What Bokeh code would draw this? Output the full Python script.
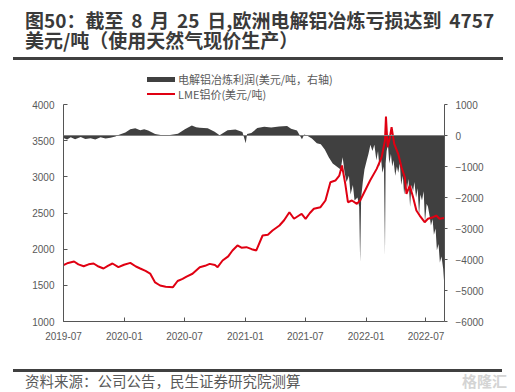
import pandas as pd
from bokeh.plotting import figure
from bokeh.layouts import column
from bokeh.models import (Range1d, LinearAxis, FixedTicker, DatetimeTickFormatter,
                          Span, Div)
from bokeh.embed import file_html
from bokeh.resources import INLINE

# ---------------- data ----------------
title_line1 = "图50：截至 8 月 25 日,欧洲电解铝冶炼亏损达到 4757"
title_line2 = "美元/吨（使用天然气现价生产）"
source_text = "资料来源：公司公告，民生证券研究院测算"
watermark = "格隆汇"
legend_profit = "电解铝冶炼利润(美元/吨，右轴)"
legend_lme = "LME铝价(美元/吨)"

x_tick_dates = ["2019-07-01", "2020-01-01", "2020-07-01", "2021-01-01",
                "2021-07-01", "2022-01-01", "2022-07-01"]
left_ticks = [1000, 1500, 2000, 2500, 3000, 3500, 4000]
right_ticks = [-6000, -5000, -4000, -3000, -2000, -1000, 0, 1000]

lme_dates = [
    "2019-07-01", "2019-07-15", "2019-08-02", "2019-08-15", "2019-08-31", "2019-09-15",
    "2019-09-30", "2019-10-15", "2019-10-30", "2019-11-12", "2019-11-26", "2019-12-14",
    "2019-12-31", "2020-01-19", "2020-02-05", "2020-02-18", "2020-03-05", "2020-03-19",
    "2020-04-03", "2020-04-18", "2020-05-05", "2020-05-27", "2020-06-10", "2020-06-25",
    "2020-07-07", "2020-07-25", "2020-08-16", "2020-09-01", "2020-09-15", "2020-10-01",
    "2020-10-09", "2020-10-24", "2020-11-10", "2020-11-23", "2020-12-08", "2020-12-20",
    "2021-01-04", "2021-01-20", "2021-02-03", "2021-02-22", "2021-03-10", "2021-03-24",
    "2021-04-14", "2021-04-28", "2021-05-14", "2021-05-28", "2021-06-12", "2021-06-20",
    "2021-07-02", "2021-07-15", "2021-07-27", "2021-08-16", "2021-08-31", "2021-09-15",
    "2021-09-30", "2021-10-12", "2021-10-20", "2021-10-30", "2021-11-07", "2021-11-19",
    "2021-12-04", "2021-12-14", "2021-12-29", "2022-01-13", "2022-02-02", "2022-02-17",
    "2022-02-27", "2022-03-02", "2022-03-07", "2022-03-14", "2022-03-19", "2022-03-27",
    "2022-04-08", "2022-04-18", "2022-04-28", "2022-05-03", "2022-05-13", "2022-05-23",
    "2022-06-02", "2022-06-12", "2022-06-27", "2022-07-07", "2022-07-22", "2022-08-01",
    "2022-08-11", "2022-08-25"]
lme_price = [
    1780, 1810, 1829, 1790, 1764, 1790,
    1802, 1760, 1733, 1770, 1802, 1751,
    1785, 1811, 1760, 1733, 1700, 1663,
    1540, 1498, 1480, 1474, 1560, 1590,
    1620, 1660, 1751, 1770, 1797, 1780,
    1751, 1843, 1900, 1982, 2051, 2020,
    2028, 2000, 1982, 2189, 2200, 2258,
    2327, 2400, 2511, 2420, 2465, 2489,
    2420, 2500, 2558, 2580, 2673, 2926,
    2949, 3018, 3157, 2903, 2649, 2673,
    2627, 2673, 2811, 2949, 3110, 3272,
    3502, 3834, 3410, 3548, 3686, 3456,
    3318, 3133, 2995, 2765, 2880, 2718,
    2535, 2465, 2373, 2420, 2442, 2465,
    2420, 2430]

profit_dates = [
    "2019-07-01", "2019-07-12", "2019-07-23", "2019-08-05", "2019-08-22", "2019-09-05",
    "2019-09-21", "2019-10-05", "2019-10-21", "2019-11-05", "2019-11-20", "2019-12-05",
    "2019-12-14", "2020-01-04", "2020-01-19", "2020-02-03", "2020-02-18", "2020-03-01",
    "2020-03-13", "2020-04-03", "2020-04-24", "2020-05-18", "2020-06-11", "2020-07-02",
    "2020-07-23", "2020-08-05", "2020-08-16", "2020-09-09", "2020-09-30", "2020-10-15",
    "2020-11-08", "2020-12-02", "2020-12-23", "2021-01-02", "2021-01-06", "2021-01-19",
    "2021-02-06", "2021-02-27", "2021-03-20", "2021-04-13", "2021-05-07", "2021-05-19",
    "2021-06-06", "2021-06-21", "2021-06-28", "2021-07-06", "2021-07-21", "2021-08-05",
    "2021-08-17", "2021-08-29", "2021-09-10", "2021-09-22", "2021-10-04", "2021-10-16",
    "2021-10-22", "2021-10-28", "2021-11-03", "2021-11-10", "2021-11-15", "2021-11-22",
    "2021-11-27", "2021-12-06", "2021-12-11", "2021-12-14", "2021-12-17", "2021-12-22",
    "2021-12-27", "2022-01-03", "2022-01-08", "2022-01-14", "2022-01-20", "2022-01-26",
    "2022-02-01", "2022-02-06", "2022-02-10", "2022-02-15", "2022-02-19", "2022-02-24",
    "2022-02-27", "2022-03-01", "2022-03-04", "2022-03-08", "2022-03-12", "2022-03-17",
    "2022-03-21", "2022-03-25", "2022-03-30", "2022-04-04", "2022-04-08", "2022-04-13",
    "2022-04-17", "2022-04-22", "2022-04-26", "2022-05-01", "2022-05-05", "2022-05-09",
    "2022-05-14", "2022-05-18", "2022-05-23", "2022-05-27", "2022-06-01", "2022-06-06",
    "2022-06-10", "2022-06-14", "2022-06-19", "2022-06-24", "2022-06-28", "2022-07-03",
    "2022-07-07", "2022-07-12", "2022-07-16", "2022-07-21", "2022-07-25", "2022-07-30",
    "2022-08-03", "2022-08-08", "2022-08-12", "2022-08-17", "2022-08-22", "2022-08-25"]
profit = [
    -80, -130, -60, -120, -50, -110,
    -90, -130, -60, -100, -70, -30,
    20, 100, 200, 230, 170, 200,
    160, 50, 10, 20, 60, 200,
    320, 270, 250, 230, 120, 10,
    170, 190, 110, -250, 50, 80,
    240, 280, 260, 290, 310, 220,
    160, -120, 30, 0, -100, -250,
    -280, -450, -700, -900, -1000, -1100,
    -700, -1200, -1500, -1300, -1900, -1600,
    -2100, -2000, -2300, -4100, -2000, -1500,
    -1100, -800, -600, -300, -500, -300,
    -800, -500, -1000, -700, -1200, -1000,
    -3900, -900, -500, -300, -900, -600,
    -1000, -800, -1300, -1000, -1200, -900,
    -1600, -1300, -1900, -1500, -1700, -1400,
    -2300, -1600, -1800, -1500, -2000, -1700,
    -2600, -1900, -2100, -1800, -2800, -2200,
    -2300, -2600, -2900, -2700, -3200, -3000,
    -3700, -3500, -4100, -3900, -4300, -4757]

# ---------------- styles / layout constants ----------------
W = 515
TOP_H, MAIN_H, BOT_H = 98, 264, 30
cjk = "Noto Sans CJK SC"
gray = "#404040"
red = "#e00012"
axis_col = "#555555"
text_col = "#595959"
tick_font = "Liberation Sans"

# ---------------- title block + legend (HTML) ----------------
title_style = ("position:absolute;left:25px;font-size:19px;font-weight:bold;"
               "color:#3a3a3a;line-height:20px;white-space:nowrap;")
top_html = (
    f'<div style="position:relative;width:{W}px;height:{TOP_H}px;font-family:\'{cjk}\';">'
    f'<div style="{title_style}top:10px;word-spacing:3.5px;">{title_line1}</div>'
    f'<div style="{title_style}top:30px;">{title_line2}</div>'
    f'<div style="position:absolute;left:13px;top:57px;width:490px;height:2.5px;'
    f'background:{gray};"></div>'
    # legend
    f'<div style="position:absolute;left:147px;top:77px;width:28px;height:5px;'
    f'background:{gray};"></div>'
    f'<div style="position:absolute;left:178px;top:72px;font-size:11px;line-height:14px;'
    f'color:{text_col};white-space:nowrap;">{legend_profit}</div>'
    f'<div style="position:absolute;left:147px;top:93px;width:28px;height:2px;'
    f'background:{red};"></div>'
    f'<div style="position:absolute;left:178px;top:87px;font-size:11px;line-height:14px;'
    f'color:{text_col};white-space:nowrap;">{legend_lme}</div>'
    f'</div>')
top = Div(text=top_html, width=W, height=TOP_H, margin=0)

# ---------------- main chart ----------------
lme_x = pd.to_datetime(lme_dates)
profit_x = pd.to_datetime(profit_dates)
tick_ms = [pd.Timestamp(d).value // 10**6 for d in x_tick_dates]

p = figure(width=W, height=MAIN_H, output_backend="svg", toolbar_location=None,
           x_axis_type="datetime", margin=0,
           x_range=Range1d(pd.Timestamp("2019-07-01"), pd.Timestamp("2022-08-26")),
           y_range=Range1d(1000, 4000),
           min_border_left=63, min_border_right=71, min_border_top=6, min_border_bottom=41)
p.extra_y_ranges = {"right": Range1d(-6000, 1000)}
p.xgrid.visible = False
p.ygrid.visible = False
p.outline_line_color = None
p.background_fill_alpha = 0
p.border_fill_alpha = 0

p.varea(x=profit_x, y1=0, y2=profit, y_range_name="right",
        fill_color=gray, fill_alpha=1.0)
p.add_layout(Span(location=0, dimension="width", y_range_name="right",
                  line_color="#808080", line_width=1))
p.line(x=lme_x, y=lme_price, line_color=red, line_width=2)

xa = p.xaxis[0]
xa.ticker = FixedTicker(ticks=tick_ms)
xa.formatter = DatetimeTickFormatter(years="%Y-%m", months="%Y-%m", days="%Y-%m",
                                     hours="%Y-%m", minutes="%Y-%m", seconds="%Y-%m",
                                     milliseconds="%Y-%m", microseconds="%Y-%m")
ya = p.yaxis[0]
ya.ticker = FixedTicker(ticks=left_ticks)
ra = LinearAxis(y_range_name="right", ticker=FixedTicker(ticks=right_ticks))
p.add_layout(ra, "right")

for ax in (xa, ya, ra):
    ax.axis_line_color = axis_col
    ax.major_tick_line_color = axis_col
    ax.minor_tick_line_color = None
    ax.major_label_text_font = tick_font
    ax.major_label_text_font_size = "10px"
    ax.major_label_text_color = text_col
xa.major_tick_in = 4
xa.major_tick_out = 0
xa.major_label_standoff = 10
ya.major_tick_in = 4
ya.major_tick_out = 0
ya.major_label_standoff = 9
ra.major_tick_in = 0
ra.major_tick_out = 3
ra.major_label_standoff = 8

# ---------------- footer (HTML) ----------------
bot_html = (
    f'<div style="position:relative;width:{W}px;height:{BOT_H}px;font-family:\'{cjk}\';">'
    f'<div style="position:absolute;left:13px;top:7px;width:489px;height:2.5px;'
    f'background:{gray};"></div>'
    f'<div style="position:absolute;left:25px;top:11px;font-size:14.5px;line-height:16px;'
    f'color:{text_col};white-space:nowrap;">{source_text}</div>'
    f'<div style="position:absolute;left:462px;top:10px;font-size:15px;line-height:17px;'
    f'font-weight:bold;color:#d4d4d4;white-space:nowrap;">{watermark}</div></div>')
bot = Div(text=bot_html, width=W, height=BOT_H, margin=0)

layout = column(top, p, bot, spacing=0)
open("out.html", "w").write(file_html(layout, INLINE))
